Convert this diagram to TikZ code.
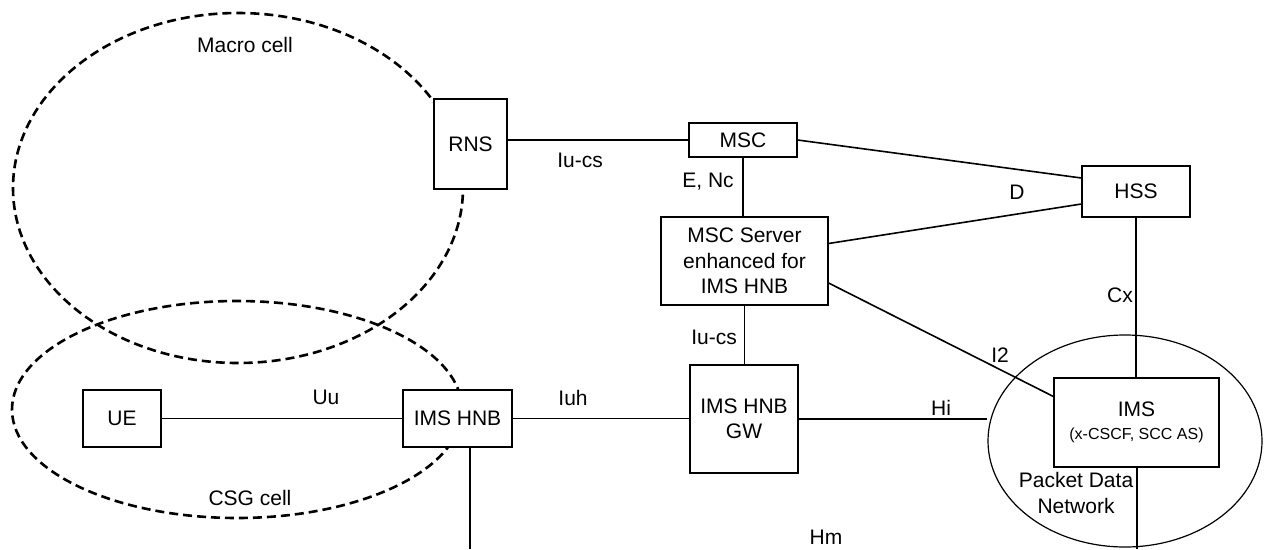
\documentclass[tikz,border=0pt]{standalone}
\usepackage{fontspec}
\setmainfont{Liberation Sans}
\usetikzlibrary{shapes.geometric}

\begin{document}
\begin{tikzpicture}[x=1pt,y=-1pt,
		box/.style={draw, fill=white, line width=1.2pt, inner sep=0pt, align=center, font=\fontsize{21}{25.5}\selectfont},
		lbl/.style={inner sep=0pt, font=\fontsize{21}{25.5}\selectfont},
		cell/.style={line width=2.6pt, dash pattern=on 9pt off 5pt},
		link/.style={line width=1.6pt}]
		\useasboundingbox (0,0) rectangle (1265,549);
		\draw[cell] (238,188) ellipse[x radius=225pt, y radius=175pt];
		\draw[cell] (237,409.5) ellipse[x radius=225pt, y radius=108.5pt];
		\node[draw, ellipse, line width=1.2pt, minimum width=274pt, minimum height=212pt] (pdn) at (1125,441) {};
		\node[box, minimum width=73pt, minimum height=90pt] (rns) at (470.5,144) {RNS};
		\node[box, minimum width=108pt, minimum height=34pt] (msc) at (743,140) {MSC};
		\node[box, minimum width=108pt, minimum height=51pt] (hss) at (1136,191.5) {HSS};
		\node[box, minimum width=167pt, minimum height=88pt] (srv) at (744.5,261) {MSC Server\\enhanced for\\IMS HNB};
		\node[box, minimum width=78pt, minimum height=57pt] (ue) at (122,418.5) {UE};
		\node[box, minimum width=109pt, minimum height=57pt] (hnb) at (457.5,418.5) {IMS HNB};
		\node[box, minimum width=108pt, minimum height=108pt] (gw) at (744,419) {IMS HNB\\GW};
		\node[box, minimum width=165pt, minimum height=89pt] (ims) at (1136.5,422.5) {IMS\\[-2pt]{\fontsize{16}{19}\selectfont(x-CSCF, SCC AS)}};
		\coordinate (hmL) at (470,549);
		\coordinate (hmR) at (1137,549);
		\draw[link] (msc.west -| rns.east) -- (msc.west);
		\draw[link] (msc.east) -- ([yshift=13.5pt]hss.west);
		\draw[link] ([yshift=17.5pt]srv.east) -- ([yshift=-12.5pt]hss.west);
		\draw[link] ([yshift=-22pt]srv.east) -- ([yshift=26pt]ims.west);
		\draw[link] (msc.south) -- (msc.south |- srv.north);
		\draw[link] (srv.south) -- (srv.south |- gw.north);
		\draw[link] (hss.south) -- (hss.south |- ims.north);
		\draw[link] (ue) -- (hnb);
		\draw[link] (hnb.east) -- (hnb.east -| gw.west);
		\draw[link] (gw.east) -- (gw.east -| pdn.west);
		\draw[link] (hmL |- hnb.south) -- (hmL);
		\draw[link] (hmR |- ims.south) -- (hmR);
		\node[lbl] (macro) at (245,45) {Macro cell};
		\node[lbl] (csg) at (250,498) {CSG cell};
		\node[lbl] (uu) at (326,397) {Uu};
		\node[lbl] (iucs) at (580,160) {Iu-cs};
		\node[lbl] (enc) at (708,182) {E, Nc};
		\node[lbl] (d) at (1017,192) {D};
		\node[lbl] (cx) at (1120,295) {Cx};
		\node[lbl] (iucsgw) at (714,337) {Iu-cs};
		\node[lbl] (iuh) at (573,398) {Iuh};
		\node[lbl] (i2) at (1000,355) {I2};
		\node[lbl] (hi) at (941,408) {Hi};
		\node[lbl] (hm) at (826,537) {Hm};
		\node[lbl, align=center] (pdntext) at (1076,493) {Packet Data\\Network};
	\end{tikzpicture}
\end{document}
